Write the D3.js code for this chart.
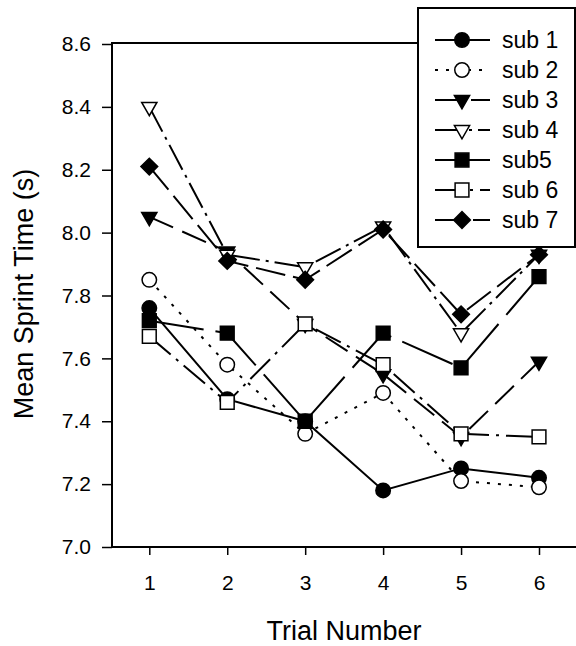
<!DOCTYPE html>
<html>
<head>
<meta charset="utf-8">
<script src="https://cdn.jsdelivr.net/npm/d3@7"></script>
<style>
  body { margin: 0; background: #fff; }
  svg { display: block; font-family: "Liberation Sans", Arial, sans-serif; }
</style>
</head>
<body>
<script>
const width = 576, height = 646;

// data
const trials = [1, 2, 3, 4, 5, 6];
const names = ["sub 1", "sub 2", "sub 3", "sub 4", "sub5", "sub 6", "sub 7"];
const sub1 = [7.76, 7.47, 7.40, 7.18, 7.25, 7.22];
const sub2 = [7.85, 7.58, 7.36, 7.49, 7.21, 7.19];
const sub3 = [8.05, 7.94, 7.71, 7.55, 7.35, 7.59];
const sub4 = [8.40, 7.93, 7.89, 8.02, 7.68, 7.93];
const sub5 = [7.72, 7.68, 7.40, 7.68, 7.57, 7.86];
const sub6 = [7.67, 7.46, 7.71, 7.58, 7.36, 7.35];
const sub7 = [8.21, 7.91, 7.85, 8.01, 7.74, 7.93];
const yTicks = [7.0, 7.2, 7.4, 7.6, 7.8, 8.0, 8.2, 8.4, 8.6];

const values = [sub1, sub2, sub3, sub4, sub5, sub6, sub7];

// marker + line style per subject
const styles = [
  {shape: "circle",   fill: "#000", dash: null},
  {shape: "circle",   fill: "#fff", dash: "3,8"},
  {shape: "triDown",  fill: "#000", dash: "26,10"},
  {shape: "triDown",  fill: "#fff", dash: "28,6,3,6"},
  {shape: "square",   fill: "#000", dash: "55,12"},
  {shape: "square",   fill: "#fff", dash: "28,7,3,7"},
  {shape: "diamond",  fill: "#000", dash: "30,8"}
];

const x = d3.scaleLinear().domain([1, 6]).range([149.3, 539]);
const y = d3.scaleLinear().domain([7.0, 8.6]).range([547, 44]);

const svg = d3.select("body").append("svg")
    .attr("width", width)
    .attr("height", height);

function symbolPath(shape) {
  if (shape === "circle") return d3.symbol(d3.symbolCircle, 165)();
  if (shape === "square") return d3.symbol(d3.symbolSquare, 190)();
  if (shape === "diamond") return d3.symbol(d3.symbolSquare, 140)();
  return d3.symbol(d3.symbolTriangle, 100)();
}
function symbolRotate(shape) {
  if (shape === "diamond") return 45;
  if (shape === "triDown") return 180;
  return 0;
}

// frame: top line, left axis, bottom axis
svg.append("line")
    .attr("x1", 112).attr("x2", 418).attr("y1", 43).attr("y2", 43)
    .attr("stroke", "#000").attr("stroke-width", 2);
svg.append("line")
    .attr("x1", 112).attr("x2", 112).attr("y1", 42).attr("y2", 548)
    .attr("stroke", "#000").attr("stroke-width", 2);
svg.append("line")
    .attr("x1", 111).attr("x2", 576).attr("y1", 547).attr("y2", 547)
    .attr("stroke", "#000").attr("stroke-width", 2);

const yAxis = svg.append("g")
    .attr("transform", "translate(112,0)")
    .call(d3.axisLeft(y).tickValues(yTicks).tickFormat(d3.format(".1f"))
      .tickSize(10).tickPadding(11));
yAxis.select(".domain").remove();
yAxis.selectAll("line").attr("stroke-width", 1.5);
yAxis.selectAll("text").attr("font-size", 21).attr("font-family", null).attr("fill", "#000");

const xAxis = svg.append("g")
    .attr("transform", "translate(0,547)")
    .call(d3.axisBottom(x).tickValues(trials).tickFormat(d3.format("d"))
      .tickSize(8).tickPadding(20));
xAxis.select(".domain").remove();
xAxis.selectAll("line").attr("stroke-width", 1.5);
xAxis.selectAll("text").attr("font-size", 21).attr("font-family", null).attr("fill", "#000");

// axis titles
svg.append("text")
    .attr("x", 344).attr("y", 640)
    .attr("text-anchor", "middle")
    .attr("font-size", 27)
    .text("Trial Number");
svg.append("text")
    .attr("transform", "translate(33,294) rotate(-90)")
    .attr("text-anchor", "middle")
    .attr("font-size", 27)
    .text("Mean Sprint Time (s)");

// series
const line = d3.line().x((d, i) => x(trials[i])).y(d => y(d));

values.forEach((vals, k) => {
  const st = styles[k];
  const g = svg.append("g");
  g.append("path")
      .attr("d", line(vals))
      .attr("fill", "none")
      .attr("stroke", "#000")
      .attr("stroke-width", 2)
      .attr("stroke-dasharray", st.dash);
  g.selectAll("path.m")
    .data(vals)
    .join("path")
      .attr("class", "m")
      .attr("d", symbolPath(st.shape))
      .attr("transform", (d, i) => `translate(${x(trials[i])},${y(d)}) rotate(${symbolRotate(st.shape)})`)
      .attr("fill", st.fill)
      .attr("stroke", "#000")
      .attr("stroke-width", 1.5);
});

// legend
const legend = svg.append("g");
legend.append("rect")
    .attr("x", 418).attr("y", 8).attr("width", 157).attr("height", 239)
    .attr("fill", "#fff").attr("stroke", "#000").attr("stroke-width", 2);

const rowY = d3.scaleLinear().domain([0, 6]).range([40, 220]);
const rows = legend.selectAll("g.row")
  .data(names)
  .join("g")
    .attr("class", "row")
    .attr("transform", (d, i) => `translate(0,${rowY(i)})`);

rows.append("line")
    .attr("x1", 435).attr("x2", 490)
    .attr("stroke", "#000").attr("stroke-width", 2)
    .attr("stroke-dasharray", (d, i) => styles[i].dash);
rows.append("path")
    .attr("d", (d, i) => symbolPath(styles[i].shape))
    .attr("transform", (d, i) => `translate(462,0) rotate(${symbolRotate(styles[i].shape)})`)
    .attr("fill", (d, i) => styles[i].fill)
    .attr("stroke", "#000")
    .attr("stroke-width", 1.5);
rows.append("text")
    .attr("x", 502).attr("dy", "0.35em")
    .attr("font-size", 23)
    .text(d => d);
</script>
</body>
</html>
